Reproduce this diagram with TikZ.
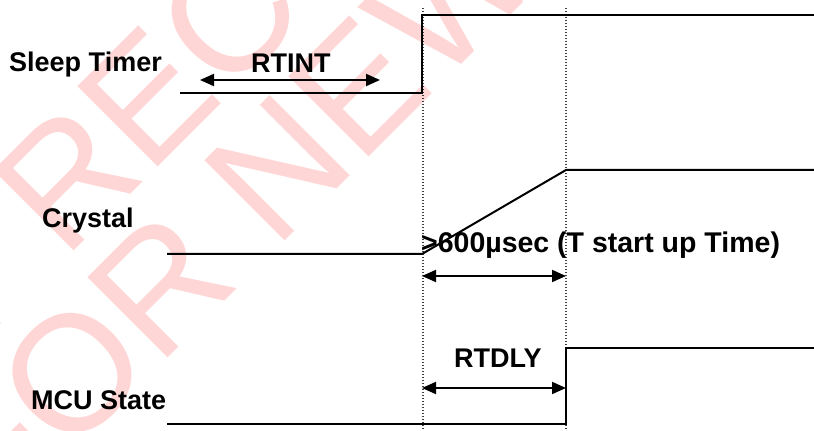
\documentclass[tikz,border=0pt]{standalone}
\usepackage{fontspec}
\setmainfont{Liberation Sans}
\usetikzlibrary{arrows.meta}
\definecolor{wmark}{RGB}{255,214,214}
\tikzset{
  wave/.style={line width=2pt, line cap=butt, line join=miter},
  guide/.style={line width=1.2pt, black!75, dash pattern=on 1.1pt off 1.9pt},
  span/.style={line width=2pt, {Triangle[length=14pt,width=12pt]}-{Triangle[length=14pt,width=12pt]}},
  lbl/.style={inner sep=0pt, anchor=base west, font=\fontsize{27}{30}\selectfont\bfseries},
  wm/.style={inner sep=0pt, anchor=base west, rotate=45, text=wmark, font=\fontsize{165}{165}\selectfont}
}
\begin{document}
\begin{tikzpicture}[x=1pt,y=1pt]
\useasboundingbox (0,0) rectangle (814,431);
\fill[white] (0,0) rectangle (814,431);
\begin{scope}
\clip (0,0) rectangle (814,431);
\node[wm] (wm1) at (64,170) {\llap{NOT }RECOMMENDED};
\node[wm] (wm2) at (275,180) {\llap{FOR }NEW DESIGNS};
\end{scope}
% guide lines
\coordinate (g1t) at (423,423); \coordinate (g1b) at (423,0);
\coordinate (g2t) at (566,423); \coordinate (g2b) at (566,0);
\draw[guide] (g1t) -- (g1b);
\draw[guide] (g2t) -- (g2b);
% labels
\node[lbl] (st) at (9,359) {Sleep Timer};
\node[lbl] (cr) at (42,203) {Crystal};
\node[lbl] (mcu) at (31,21) {MCU State};
\node[lbl] (rtint) at (251,358) {RTINT};
\node[lbl, font=\fontsize{28.5}{30}\selectfont\bfseries] (tsu) at (421,178) {>600µsec (T start up Time)};
\node[lbl] (rtdly) at (454,63) {RTDLY};
% Sleep timer
\coordinate (s0) at (180,338); \coordinate (s1) at (422,338);
\coordinate (s2) at (422,416); \coordinate (s3) at (814,416);
\draw[wave] (s0) -- (s1) -- (s2) -- (s3);
\coordinate (ra) at (200,351); \coordinate (rb) at (380,351);
\draw[span] (ra) -- (rb);
% Crystal
\coordinate (c0) at (167,177); \coordinate (c1) at (422,177);
\coordinate (c2) at (566,261); \coordinate (c3) at (814,261);
\draw[wave] (c0) -- (c1) -- (c2) -- (c3);
\coordinate (ta) at (422,155); \coordinate (tb) at (566,155);
\draw[span] (ta) -- (tb);
% MCU state
\coordinate (m0) at (167,7); \coordinate (m1) at (566,7);
\coordinate (m2) at (566,83); \coordinate (m3) at (814,83);
\draw[wave] (m0) -- (m1) -- (m2) -- (m3);
\coordinate (da) at (422,43); \coordinate (db) at (566,43);
\draw[span] (da) -- (db);
\end{tikzpicture}
\end{document}
